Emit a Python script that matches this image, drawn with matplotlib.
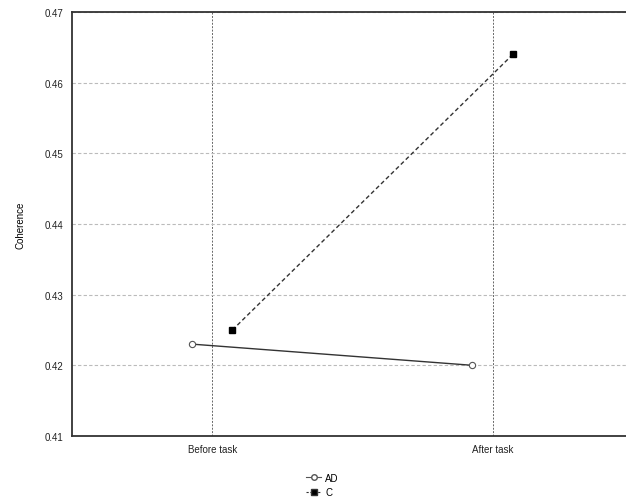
import numpy as np
import matplotlib
matplotlib.use("Agg")
import matplotlib.pyplot as plt
from matplotlib.lines import Line2D

plt.rcParams['font.family'] = ['Liberation Sans', 'DejaVu Sans']

# coherence per group, before and after the task
phases = ["Before task", "After task"]
ad_vals = [0.423, 0.420]
c_vals = [0.425, 0.464]
offset = 0.072  # small horizontal shift so the groups don't overlap

fig = plt.figure(figsize=(6.26, 5.02), dpi=100)
ax = fig.add_axes([0.115, 0.1295, 0.896, 0.8446])

x = np.arange(len(phases))
ax.plot(x - offset, ad_vals, color="#333333", lw=1.0, marker="o", ms=4.5,
        mfc="white", mec="#555555", mew=0.8, label="AD")
ax.plot(x + offset, c_vals, color="#333333", lw=1.0, ls=(0, (3, 2)), marker="s",
        ms=4.5, mfc="black", mec="black", label="C")

ax.set_xlim(-0.5, 1.5)
ax.set_ylim(0.41, 0.47)
ax.set_yticks(np.arange(0.41, 0.4701, 0.01))
ax.set_yticklabels([f"{v:.2f}" for v in np.arange(0.41, 0.4701, 0.01)])
ax.set_xticks(x)
ax.set_xticklabels(phases)

ax.yaxis.grid(True, color="#bbbbbb", ls=(0, (3, 2)), lw=0.8)
ax.xaxis.grid(True, color="#666666", ls=(0, (2, 1.5)), lw=0.7)
ax.set_axisbelow(True)

for s in ["left", "bottom", "top"]:
    ax.spines[s].set_linewidth(1.3)
    ax.spines[s].set_color("#333333")
ax.spines["right"].set_visible(False)

ax.tick_params(axis="both", labelsize=7, length=0, pad=6, colors="#222222")
ax.set_ylabel("Coherence", fontsize=7, labelpad=14)

handles = [Line2D([], [], color="#555555", lw=0.8, marker="o", ms=4, mfc="white", mec="#555555"),
           Line2D([], [], color="#333333", lw=0.8, ls=(0, (2, 1.5)), marker="s", ms=4, mfc="black")]
fig.legend(handles, ["AD", "C"], loc="center", bbox_to_anchor=(0.515, 0.032), frameon=False,
           fontsize=7, handlelength=1.6, handletextpad=0.4, labelspacing=0.5)

fig.savefig("out.png", dpi=100)
